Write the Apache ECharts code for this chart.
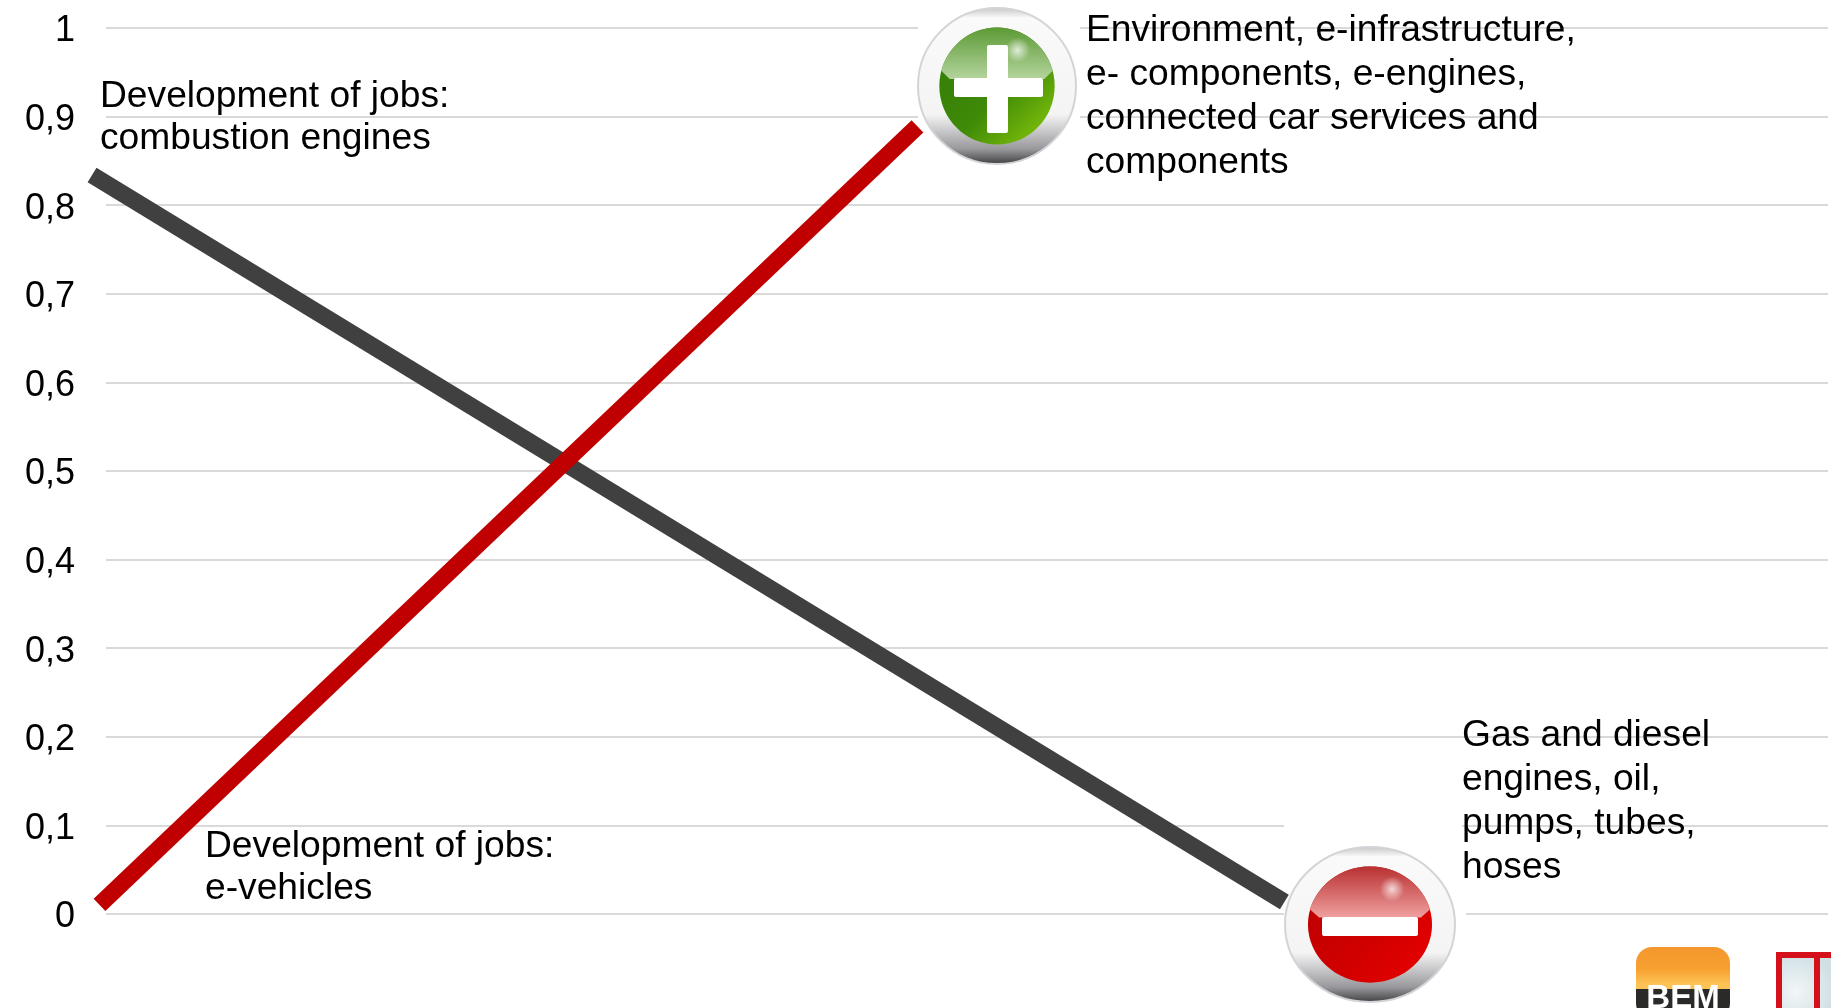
<!DOCTYPE html>
<html>
<head>
<meta charset="utf-8">
<style>
  html, body { margin: 0; padding: 0; background: #fff; }
  #chart { width: 1831px; height: 1008px; }
</style>
<script src="https://cdn.jsdelivr.net/npm/echarts@6/dist/echarts.min.js"></script>
</head>
<body>
<div id="chart"></div>
<script>
// values, x is in percent of the plot width
const yTicks = ['0', '0,1', '0,2', '0,3', '0,4', '0,5', '0,6', '0,7', '0,8', '0,9', '1'];
const combustionLine = [[0.69, 8.34], [68.9, 0.135]];
const electricLine = [[1.115, 0.102], [47.91, 8.89]];

const FONT = '"Liberation Sans", Arial, sans-serif';
const chart = echarts.init(document.getElementById('chart'));

function note(x, y, text, lineHeight) {
  return {
    type: 'text', x: x, y: y, z: 20,
    style: { text: text, font: '37.2px ' + FONT, lineHeight: lineHeight || 44, fill: '#000' }
  };
}

function grad(x2, y2, stops) {
  return new echarts.graphic.LinearGradient(0, 0, x2, y2, stops.map(function (s) {
    return { offset: s[0], color: s[1] };
  }));
}

// top part of the disc, flat at the bar with slanted corners
function glossPoints(cx, cy, rx, ry) {
  let pts = [];
  for (let a = 195; a <= 345; a += 5) {
    pts.push([cx + rx * Math.cos(a * Math.PI / 180), cy + ry * Math.sin(a * Math.PI / 180)]);
  }
  pts.push([cx + rx * 0.82, cy - ry * 0.12]);
  pts.push([cx - rx * 0.82, cy - ry * 0.12]);
  return pts;
}

// round button, the pasted images of the slide drawn as shapes
function button(cx, cy, rx, ry, disc, gloss, bars) {
  let dx = rx * 0.73, dy = ry * 0.75;
  let shapes = [
    { type: 'ellipse', z: 11, shape: { cx: cx, cy: cy, rx: rx, ry: ry },
      style: {
        stroke: '#d4d4d8', lineWidth: 2,
        fill: grad(0, 1, [[0, '#c4c4c6'], [0.07, '#fafafa'], [0.68, '#f4f4f4'], [0.9, '#98989c'], [1, '#3c3c3e']])
      } },
    { type: 'ellipse', z: 12, shape: { cx: cx, cy: cy, rx: dx, ry: dy },
      style: { fill: grad(1, 1, disc) } },
    { type: 'polygon', z: 13, shape: { points: glossPoints(cx, cy, dx, dy) },
      style: { fill: grad(0, 1, gloss) } },
    { type: 'ellipse', z: 13, shape: { cx: cx + rx * 0.26, cy: cy - ry * 0.46, rx: rx * 0.16, ry: ry * 0.16 },
      style: { fill: new echarts.graphic.RadialGradient(0.5, 0.5, 0.5, [
        { offset: 0, color: 'rgba(255,255,255,0.75)' }, { offset: 1, color: 'rgba(255,255,255,0)' }
      ]) } }
  ];
  bars.forEach(function (b) {
    shapes.push({ type: 'rect', z: 14, shape: { x: b[0], y: b[1], width: b[2], height: b[3], r: 2 }, style: { fill: '#fff' } });
  });
  return shapes;
}

const graphics = [
  // grid lines stop at the left of the plot and behind the white image boxes
  { type: 'rect', z: 1, shape: { x: 80, y: 0, width: 26, height: 1008 }, style: { fill: '#fff' } },
  { type: 'rect', z: 1, shape: { x: 918, y: 0, width: 162, height: 170 }, style: { fill: '#fff' } },
  { type: 'rect', z: 1, shape: { x: 1284, y: 815, width: 178, height: 193 }, style: { fill: '#fff' } },
  { type: 'rect', z: 1, shape: { x: 1462, y: 905, width: 4, height: 20 }, style: { fill: '#fff' } }
].concat(
  button(997, 86, 79, 78,
    [[0, '#2f7a06'], [0.55, '#3f8a08'], [1, '#8ccb0a']],
    [[0, '#5c9a34'], [1, '#b4d49e']],
    [[987, 45, 21, 88], [954, 78, 89, 19]]),
  button(1370, 924.5, 85, 77.5,
    [[0, '#b80000'], [0.55, '#d00000'], [1, '#ea0000']],
    [[0, '#b83030'], [1, '#f0a0a0']],
    [[1322, 917, 96, 19]]),
  [
    // BEM logo, cut by the bottom edge
    { type: 'rect', z: 15, shape: { x: 1636, y: 947, width: 94, height: 72, r: 16 },
      style: { fill: grad(0, 1, [[0, '#f5972d'], [0.3, '#f6a030'], [0.52, '#fdc455'], [0.58, '#fdc455'], [0.59, '#2a2a28'], [1, '#2a2a28']]) } },
    { type: 'text', z: 16, x: 1683, y: 999, style: { text: 'BEM', font: 'bold 33px ' + FONT, fill: '#fff', align: 'center', verticalAlign: 'middle' } },
    // red frame on the right edge
    { type: 'rect', z: 15, shape: { x: 1779, y: 955, width: 60, height: 60 },
      style: {
        stroke: '#d4101a', lineWidth: 6,
        fill: new echarts.graphic.RadialGradient(0.3, 0.6, 0.6, [{ offset: 0, color: '#f2f6f7' }, { offset: 1, color: '#cfdfe4' }])
      } },
    { type: 'rect', z: 16, shape: { x: 1814, y: 955, width: 6, height: 60 }, style: { fill: '#d4101a' } },
    note(100, 76, 'Development of jobs:\ncombustion engines', 42),
    note(1086, 9, 'Environment, e-infrastructure,\ne- components, e-engines,\nconnected car services and\ncomponents'),
    note(1462, 714, 'Gas and diesel\nengines, oil,\npumps, tubes,\nhoses'),
    note(205, 826, 'Development of jobs:\ne-vehicles', 42)
  ]
);

chart.setOption({
  animation: false,
  backgroundColor: '#fff',
  grid: { left: 80, right: 3, top: 28, bottom: 94 },
  xAxis: { type: 'value', min: 0, max: 100, show: false },
  yAxis: {
    type: 'value', min: 0, max: 10, interval: 1,
    axisLine: { show: false },
    axisTick: { show: false },
    splitLine: { lineStyle: { color: '#d9d9d9', width: 2 } },
    axisLabel: {
      margin: 5,
      // label sits a little under its grid line
      formatter: function (v) { return '{t|' + yTicks[v] + '}'; },
      rich: { t: { color: '#000', fontFamily: FONT, fontSize: 36, padding: [7, 0, 0, 0] } }
    }
  },
  series: [
    {
      type: 'line', data: combustionLine, showSymbol: false, z: 3,
      lineStyle: { color: '#404040', width: 17, cap: 'butt' }
    },
    {
      type: 'line', data: electricLine, showSymbol: false, z: 4,
      lineStyle: { color: '#c00000', width: 17, cap: 'butt' }
    }
  ],
  graphic: { elements: graphics }
});
</script>
</body>
</html>
